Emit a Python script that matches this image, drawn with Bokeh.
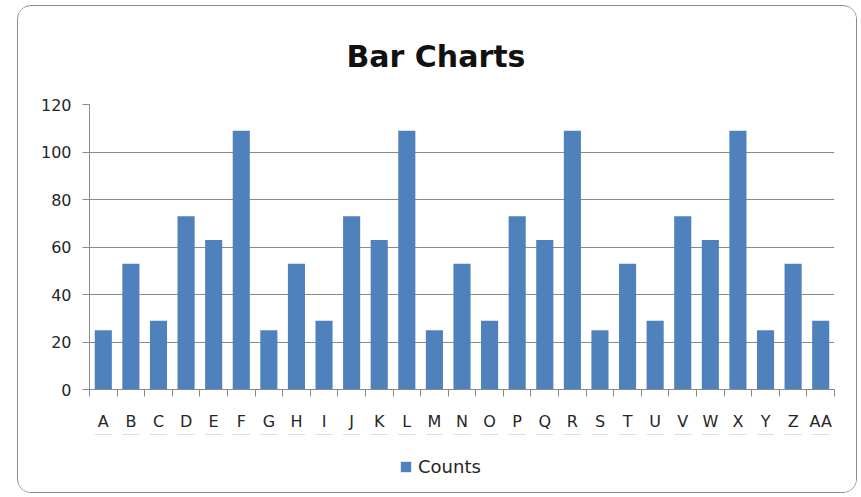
from bokeh.plotting import figure
from bokeh.layouts import column
from bokeh.models import (ColumnDataSource, FixedTicker, CustomJSTickFormatter, Range1d,
                          Title, Legend, LegendItem)
from bokeh.embed import file_html
from bokeh.resources import INLINE

categories = ["A", "B", "C", "D", "E", "F", "G", "H", "I", "J", "K", "L", "M", "N",
              "O", "P", "Q", "R", "S", "T", "U", "V", "W", "X", "Y", "Z", "AA"]
counts = [25, 53, 29, 73, 63, 109, 25, 53, 29, 73, 63, 109, 25, 53,
          29, 73, 63, 109, 25, 53, 29, 73, 63, 109, 25, 53, 29]
y_ticks = [0, 20, 40, 60, 80, 100, 120]
title_text = "Bar Charts"
series_name = "Counts"

BAR = "#4F81BD"
GRID = "#8a8a8a"
TXT = "#262626"
FONT = "DejaVu Sans"

n = len(categories)
xs = list(range(n))
src = ColumnDataSource(dict(x=xs, counts=counts, cat=categories))

W = 838
p = figure(width=W, height=428, output_backend="svg", toolbar_location=None,
           x_range=Range1d(-0.5, n - 0.5), y_range=Range1d(y_ticks[0], y_ticks[-1]),
           min_border_left=71, min_border_right=22, min_border_top=97, min_border_bottom=45)
p.outline_line_color = None
p.background_fill_color = "white"
p.border_fill_color = "white"

bars = p.vbar(x="x", top="counts", width=0.62, source=src, fill_color=BAR, line_color=None)

# x axis: labels at category centres, tick marks between categories
xa = p.xaxis[0]
xa.ticker = FixedTicker(ticks=xs, minor_ticks=[i - 0.5 for i in range(n + 1)])
xa.formatter = CustomJSTickFormatter(args=dict(labels=categories),
                                     code="const i = Math.round(tick); return (i >= 0 && i < labels.length) ? labels[i] : '';")
xa.major_tick_line_color = None
xa.minor_tick_line_color = GRID
xa.minor_tick_in = 0
xa.minor_tick_out = 7
xa.axis_line_color = GRID
xa.major_label_text_font = FONT
xa.major_label_text_font_size = "16px"
xa.major_label_text_color = TXT
xa.major_label_standoff = 15

ya = p.yaxis[0]
ya.ticker = FixedTicker(ticks=y_ticks, minor_ticks=[])
ya.major_tick_line_color = GRID
ya.major_tick_in = 0
ya.major_tick_out = 7
ya.axis_line_color = GRID
ya.major_label_text_font = FONT
ya.major_label_text_font_size = "16px"
ya.major_label_text_color = TXT
ya.major_label_standoff = 11

p.xgrid.visible = False
p.ygrid.grid_line_color = GRID
p.ygrid.grid_line_width = 1

p.title = Title(text=title_text, align="left", offset=257, standoff=61,
                text_font=FONT, text_font_style="bold", text_font_size="30px",
                text_color="#111111")

# legend strip below the plot (key renderer kept far outside its visible range)
p2 = figure(width=W, height=58, output_backend="svg", toolbar_location=None,
            x_axis_type=None, y_axis_type=None, min_border=0,
            x_range=Range1d(-0.5, n - 0.5), y_range=Range1d(-100001, -100000))
p2.outline_line_color = None
p2.grid.visible = False
p2.background_fill_color = "white"
p2.border_fill_color = "white"
key = p2.vbar(x="x", top="counts", width=0.62, source=src, fill_color=BAR, line_color=None)

legend = Legend(items=[LegendItem(label=series_name, renderers=[key])],
                location=(310, 15), glyph_width=13, glyph_height=13, label_standoff=6,
                label_height=21,
                label_text_font=FONT, label_text_font_size="18px", label_text_color=TXT,
                padding=0, margin=0, spacing=0, border_line_color=None,
                background_fill_alpha=0)
p2.add_layout(legend, "center")

layout = column(p, p2, spacing=0)
layout.margin = (5, 0, 0, 17)
layout.styles = {"border": "1px solid #8c8c8c", "border-radius": "14px", "overflow": "hidden",
                 "background-color": "white"}

open("out.html", "w").write(file_html(layout, INLINE))
